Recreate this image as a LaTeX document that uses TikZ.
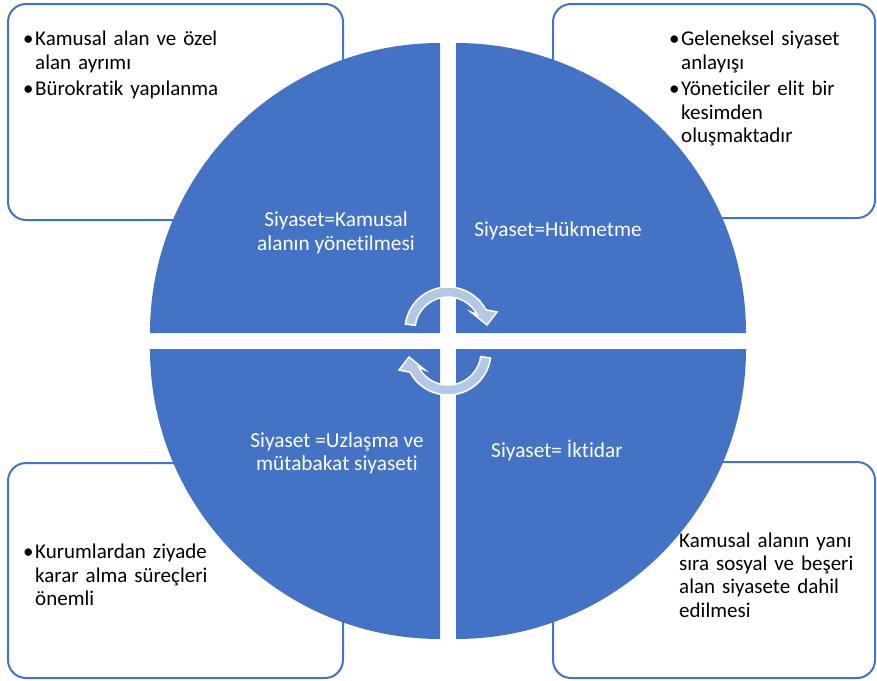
\documentclass[tikz,border=0pt]{standalone}
\usepackage{fontspec}
\setmainfont{Carlito}[Ligatures=NoCommon]
\definecolor{blu}{HTML}{4472C4}
\definecolor{lightblu}{HTML}{B4C7E7}
\tikzset{
    box/.style = {draw=blu, line width=2pt, rounded corners=18pt,
                 minimum width=335pt, minimum height=216pt},
    quad/.style = {fill=blu},
    txt/.style = {inner sep=0pt, text width=260pt, anchor=north west,
                 font=\fontsize{21}{23.4}\selectfont},
    lbl/.style = {inner sep=0pt, text=white, align=center,
                 font=\fontsize{21.33}{23.4}\selectfont},
    cyc/.style = {fill=lightblu, draw=white, line width=1.5pt},
}
\newcommand\plain{\rightskip=0pt\parfillskip=0pt plus 1fil\parindent=0pt}
\newcommand\blt[1]{\par\plain\parskip=3.4pt\hangindent=12pt\hangafter=1\noindent\makebox[12pt][l]{\strut\textbullet}#1\par}

\begin{document}
\begin{tikzpicture}[x=1pt,y=1pt]
\useasboundingbox (0,0) rectangle (877,-680);
\node (tlbox) [box] at (175.5,-112) {};
\node (trbox) [box,minimum width=322pt,minimum height=214pt] at (714,-111) {};
\node (blbox) [box,minimum height=215pt] at (175.5,-570.5) {};
\node (brbox) [box,minimum width=322pt] at (714,-570) {};
\fill[quad] (440,-333) -- (150,-333) arc[start angle=180, end angle=90, radius=290] -- cycle;
\fill[quad] (456,-333) -- (456,-43) arc[start angle=90, end angle=0, radius=290] -- cycle;
\fill[quad] (440,-349) -- (440,-639) arc[start angle=270, end angle=180, radius=290] -- cycle;
\fill[quad] (456,-349) -- (746,-349) arc[start angle=0, end angle=-90, radius=290] -- cycle;
\begin{scope}[shift={(448,-330)}]
\draw[cyc] (172:43) arc[start angle=172, end angle=28, radius=43] -- (49,18) -- (39,5) -- (23,18)
    -- (28:33) arc[start angle=28, end angle=172, radius=33] -- cycle;
\end{scope}
\begin{scope}[shift={(448,-352)},rotate=180]
\draw[cyc] (172:43) arc[start angle=172, end angle=28, radius=43] -- (49,18) -- (39,5) -- (23,18)
    -- (28:33) arc[start angle=28, end angle=172, radius=33] -- cycle;
\end{scope}
\node (kamu) [lbl] at (336,-232.7) {Siyaset=Kamusal\\alanın yönetilmesi};
\node (hukm) [lbl,anchor=base] at (558,-236) {Siyaset=Hükmetme};
\node (uzla) [lbl] at (337,-453.5) {Siyaset =Uzlaşma ve\\mütabakat siyaseti};
\node (ikti) [lbl,anchor=base] at (557,-457) {Siyaset= İktidar};
\node (tltxt) [txt] at (23,-18.6) {\blt{Kamusal alan ve özel\newline alan ayrımı}\blt{Bürokratik yapılanma}};
\node (trtxt) [txt] at (669,-18.6) {\blt{Geleneksel siyaset\newline anlayışı}\blt{Yöneticiler elit bir\newline kesimden\newline oluşmaktadır}};
\node (bltxt) [txt] at (23,-531.6) {\blt{Kurumlardan ziyade\newline karar alma süreçleri\newline önemli}};
\node (brtxt) [txt] at (679,-530.6) {\plain\noindent\strut Kamusal alanın yanı\newline sıra sosyal ve beşeri\newline alan siyasete dahil\newline edilmesi\par};
\end{tikzpicture}
\end{document}
